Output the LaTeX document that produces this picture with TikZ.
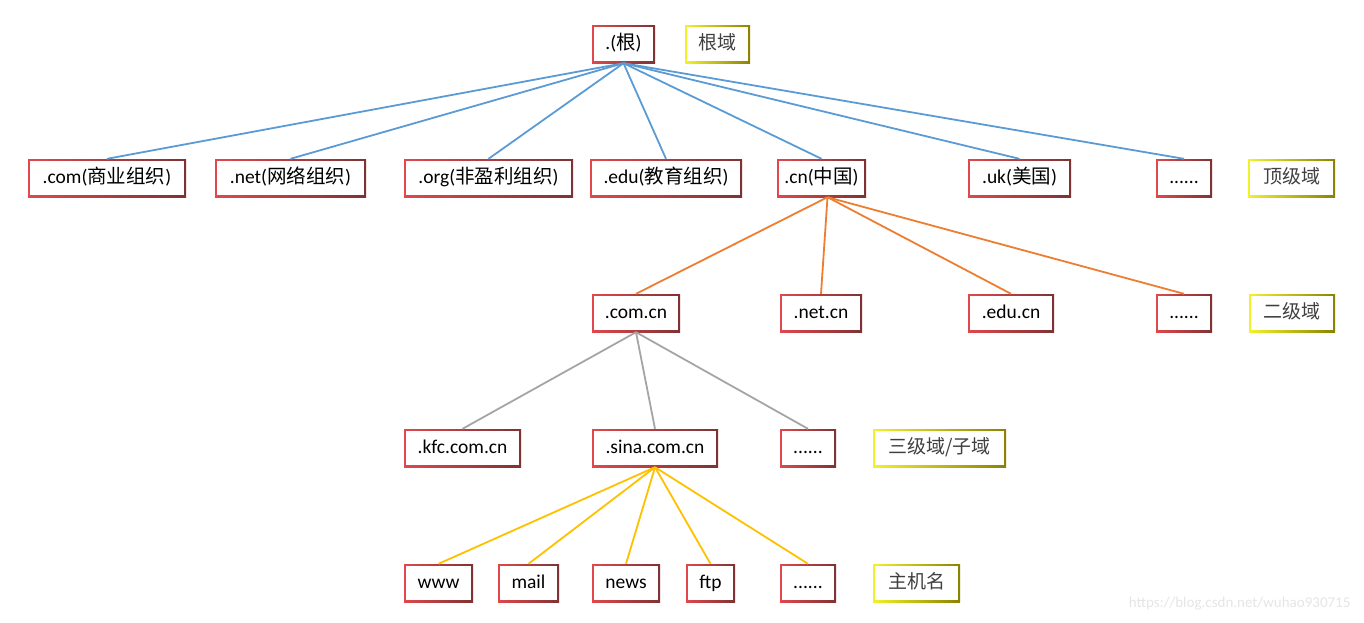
\documentclass[tikz,border=0pt]{standalone}
\usepackage{fontspec}
\setmainfont{Carlito}
\newfontfamily\cjk{Noto Sans CJK SC}
\definecolor{bl}{HTML}{5B9BD5}
\definecolor{og}{HTML}{ED7D31}
\definecolor{gy}{HTML}{A5A5A5}
\definecolor{gd}{HTML}{FFC000}
\definecolor{rdL}{HTML}{E0484C}
\definecolor{rdR}{HTML}{7E3234}
\definecolor{ywL}{HTML}{F2F22A}
\definecolor{ywR}{HTML}{8A8200}
\definecolor{lbtxt}{HTML}{404040}
\tikzset{
  framebox/.style={inner sep=0pt, minimum height=38pt, text height=14pt, text depth=4pt,
    shading=axis, shading angle=90,
    path picture={\fill[white] ([shift={(2pt,-2pt)}]path picture bounding box.north west) rectangle ([shift={(-2pt,2pt)}]path picture bounding box.south east);},
    font=\fontsize{19.5pt}{22pt}\selectfont},
  dbox/.style={framebox, left color=rdL, right color=rdR, text=black},
  lbox/.style={framebox, left color=ywL, right color=ywR, text=lbtxt, font=\fontsize{19pt}{22pt}\selectfont\cjk},
  conn/.style={line width=1.8pt},
}
\begin{document}
\begin{tikzpicture}[x=1pt,y=-1pt]
\useasboundingbox (0,0) rectangle (1364,622);
% level 0
\node[dbox, minimum width=63pt] (root) at (623.5,44) {.({\cjk 根})};
\node[lbox, minimum width=65pt] (l0) at (717.5,44) {根域};
% level 1
\node[dbox, minimum width=158pt] (com) at (107,178) {.com({\cjk 商业组织})};
\node[dbox, minimum width=151pt] (net) at (290.5,178) {.net({\cjk 网络组织})};
\node[dbox, minimum width=169pt] (org) at (488.5,178) {.org({\cjk 非盈利组织})};
\node[dbox, minimum width=152pt] (edu) at (666,178) {.edu({\cjk 教育组织})};
\node[dbox, minimum width=89pt] (cn) at (821.5,178) {.cn({\cjk 中国})};
\node[dbox, minimum width=103pt] (uk) at (1019.5,178) {.uk({\cjk 美国})};
\node[dbox, minimum width=56pt] (d1) at (1184,178) {......};
\node[lbox, minimum width=87pt] (l1) at (1291.5,178) {顶级域};
% level 2
\node[dbox, minimum width=88pt] (comcn) at (636,313) {.com.cn};
\node[dbox, minimum width=82pt] (netcn) at (821,313) {.net.cn};
\node[dbox, minimum width=86pt] (educn) at (1011,313) {.edu.cn};
\node[dbox, minimum width=56pt] (d2) at (1184,313) {......};
\node[lbox, minimum width=86pt] (l2) at (1292,313) {二级域};
% level 3
\node[dbox, minimum width=117pt] (kfc) at (462.5,448) {.kfc.com.cn};
\node[dbox, minimum width=126pt] (sina) at (655,448) {.sina.com.cn};
\node[dbox, minimum width=56pt] (d3) at (808,448) {......};
\node[lbox, minimum width=133pt] (l3) at (939.5,448) {三级域/子域};
% level 4
\node[dbox, minimum width=69pt] (www) at (438.5,583) {www};
\node[dbox, minimum width=61pt] (mail) at (528.5,583) {mail};
\node[dbox, minimum width=68pt] (news) at (626,583) {news};
\node[dbox, minimum width=49pt] (ftp) at (710.5,583) {ftp};
\node[dbox, minimum width=56pt] (d4) at (808,583) {......};
\node[lbox, minimum width=87pt] (l4) at (916.5,583) {主机名};
% connectors
\foreach \c in {com,net,org,edu,cn,uk,d1} \draw[conn, bl] (root.south) -- (\c.north);
\coordinate (cnb) at ([xshift=6pt]cn.south);
\foreach \c in {comcn,netcn,educn,d2} \draw[conn, og] (cnb) -- (\c.north);
\foreach \c in {kfc,sina,d3} \draw[conn, gy] (comcn.south) -- (\c.north);
\foreach \c in {www,mail,news,ftp,d4} \draw[conn, gd] (sina.south) -- (\c.north);
\node[text=black!10, font=\fontsize{15pt}{17pt}\selectfont, anchor=east] (wm) at (1354,604) {https://blog.csdn.net/wuhao930715};
\end{tikzpicture}
\end{document}
